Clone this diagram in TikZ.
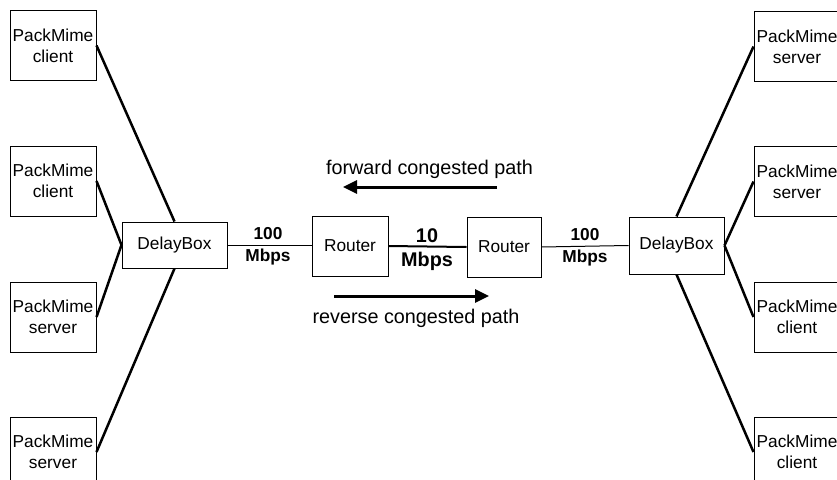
\documentclass[tikz,border=0pt]{standalone}
\usepackage{fontspec}
\setmainfont{Liberation Sans}
\usetikzlibrary{arrows.meta}
\begin{document}
\begin{tikzpicture}[x=1pt,y=-1pt,
  box/.style={draw,line width=1pt,inner sep=0pt,align=center,font=\fontsize{17.3}{21}\selectfont},
  pm/.style={box,minimum width=86pt,minimum height=70pt},
  thickline/.style={line width=2.5pt},
  thinline/.style={line width=1pt},
  midline/.style={line width=2pt},
  lbl/.style={align=center,inner sep=0pt,font=\fontsize{17.3}{22}\selectfont\bfseries},
  biglbl/.style={align=center,inner sep=0pt,font=\fontsize{19.8}{24}\selectfont\bfseries},
  pathtxt/.style={inner sep=0pt,anchor=base,font=\fontsize{19.8}{24}\selectfont},
  bigarrow/.style={line width=3pt,-{Triangle[length=14pt,width=13pt]}}]
\clip (0,0) rectangle (837,479);
% left hosts
\node[pm] (lc1) at (53,45.5) {PackMime\\client};
\node[pm] (lc2) at (53,181) {PackMime\\client};
\node[pm] (ls1) at (53,317) {PackMime\\server};
\node[pm] (ls2) at (53,452) {PackMime\\server};
% right hosts
\node[pm] (rs1) at (797,46.5) {PackMime\\server};
\node[pm] (rs2) at (797,181.5) {PackMime\\server};
\node[pm] (rc1) at (797,317) {PackMime\\client};
\node[pm] (rc2) at (797,452) {PackMime\\client};
% delay boxes and routers
\node[box,minimum width=105pt,minimum height=46pt] (ldb) at (174.5,245) {DelayBox};
\node[box,minimum width=95pt,minimum height=57pt] (rdb) at (676.5,245.5) {DelayBox};
\node[box,minimum width=76pt,minimum height=60pt] (r1) at (350,246) {Router};
\node[box,minimum width=74pt,minimum height=60pt] (r2) at (504,247) {Router};
% connectors left
\draw[thickline] (lc1.east) -- (ldb.north);
\draw[thickline] (lc2.east) -- (ldb.west);
\draw[thickline] (ls1.east) -- (ldb.west);
\draw[thickline] (ls2.east) -- (ldb.south);
% connectors right
\draw[thickline] (rs1.west) -- (rdb.north);
\draw[thickline] (rs2.west) -- (rdb.east);
\draw[thickline] (rc1.west) -- (rdb.east);
\draw[thickline] (rc2.west) -- (rdb.south);
% backbone
\draw[thinline] (ldb.east) -- (r1.west |- ldb.east);
\draw[midline] (r1.east) -- (r2.west);
\draw[thinline] (r2.east) -- (rdb.west);
% labels
\node[lbl] (l100a) at (268,246) {100\\Mbps};
\node[biglbl] (l10) at (427,250) {10\\Mbps};
\node[lbl] (l100b) at (585,247) {100\\Mbps};
% congested paths
\coordinate (fa) at (497,187);
\coordinate (fb) at (343,187);
\draw[bigarrow] (fa) -- (fb);
\node[pathtxt] (ftxt) at (429.5,174) {forward congested path};
\coordinate (ra) at (334,296);
\coordinate (rb) at (489,296);
\draw[bigarrow] (ra) -- (rb);
\node[pathtxt] (rtxt) at (416,323) {reverse congested path};
\end{tikzpicture}
\end{document}
